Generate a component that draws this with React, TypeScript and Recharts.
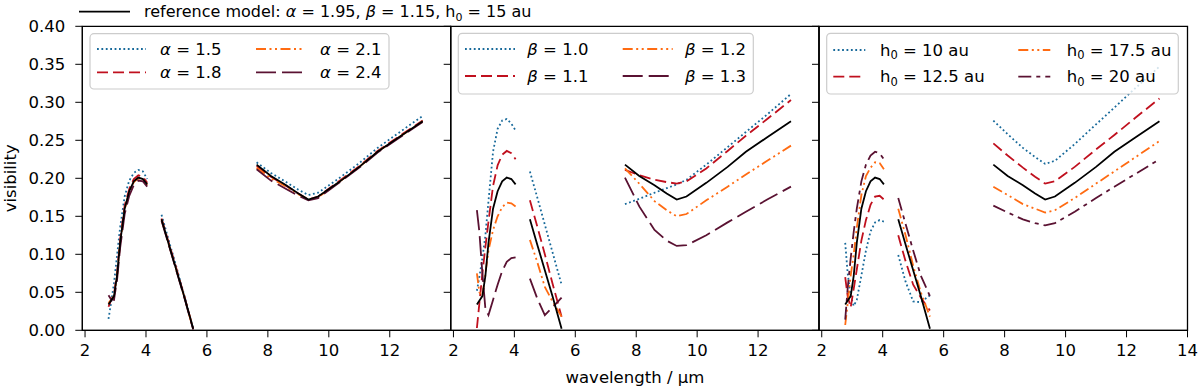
import { LineChart, Line, XAxis, YAxis, ReferenceArea } from "recharts";

// wavelength grid (µm); the null rows at 4.3 and 6.5 break the line between bands
const wavelength = [
  2.77, 2.85, 2.95, 3.05, 3.15, 3.3, 3.45, 3.6, 3.75, 3.9, 4.04, 4.3, 4.51,
  4.75, 5.0, 5.25, 5.55, 6.5, 7.63, 8.1, 8.6, 9.0, 9.33, 9.65, 10.3, 11.0,
  11.6, 12.3, 13.08,
];

const referenceModel = [
  0.034, 0.039, 0.045, 0.072, 0.115, 0.16, 0.183, 0.196, 0.201, 0.199, 0.192,
  null, 0.146, 0.113, 0.079, 0.045, 0.002, null, 0.218, 0.203, 0.191, 0.18,
  0.172, 0.176, 0.194, 0.215, 0.235, 0.254, 0.275,
];

const alpha15 = [
  0.015, 0.035, 0.062, 0.098, 0.135, 0.176, 0.197, 0.207, 0.211, 0.209, 0.199,
  null, 0.152, 0.118, 0.083, 0.047, 0.002, null, 0.221, 0.207, 0.195, 0.185,
  0.178, 0.181, 0.199, 0.22, 0.24, 0.26, 0.282,
];
const alpha18 = [
  0.031, 0.039, 0.047, 0.075, 0.119, 0.164, 0.186, 0.199, 0.204, 0.202, 0.194,
  null, 0.147, 0.115, 0.081, 0.046, 0.002, null, 0.216, 0.202, 0.19, 0.18,
  0.172, 0.176, 0.195, 0.216, 0.236, 0.255, 0.276,
];
const alpha21 = [
  0.036, 0.04, 0.045, 0.071, 0.114, 0.159, 0.182, 0.195, 0.2, 0.198, 0.191,
  null, 0.145, 0.113, 0.079, 0.045, 0.001, null, 0.214, 0.2, 0.189, 0.179,
  0.172, 0.175, 0.194, 0.215, 0.235, 0.254, 0.275,
];
const alpha24 = [
  0.046, 0.041, 0.04, 0.066, 0.108, 0.153, 0.177, 0.191, 0.197, 0.196, 0.189,
  null, 0.144, 0.112, 0.078, 0.044, 0.001, null, 0.212, 0.197, 0.186, 0.177,
  0.171, 0.174, 0.193, 0.214, 0.234, 0.253, 0.274,
];

const beta10 = [
  0.052, 0.07, 0.095, 0.125, 0.17, 0.235, 0.265, 0.276, 0.278, 0.272, 0.263,
  null, 0.209, 0.175, 0.139, 0.103, 0.06, null, 0.166, 0.173, 0.181, 0.187,
  0.192, 0.198, 0.218, 0.241, 0.261, 0.284, 0.311,
];
const beta11 = [
  0.003, 0.035, 0.075, 0.11, 0.143, 0.19, 0.217, 0.231, 0.236, 0.233, 0.225,
  null, 0.171, 0.137, 0.1, 0.062, 0.018, null, 0.211, 0.204, 0.198, 0.195,
  0.193, 0.196, 0.213, 0.236, 0.256, 0.278, 0.303,
];
const beta12 = [
  0.075, 0.05, 0.045, 0.075, 0.105, 0.132, 0.15, 0.162, 0.168, 0.167, 0.163,
  null, 0.119, 0.09, 0.057, 0.038, 0.018, null, 0.213, 0.193, 0.17, 0.158,
  0.15, 0.153, 0.171, 0.189, 0.205, 0.223, 0.243,
];
const beta13 = [
  0.158, 0.13, 0.075, 0.028, 0.02, 0.04, 0.06, 0.078, 0.09, 0.095, 0.096,
  null, 0.068, 0.042, 0.02, 0.03, 0.043, null, 0.201, 0.163, 0.132, 0.118,
  0.111, 0.112, 0.125, 0.142, 0.156, 0.172, 0.189,
];

const h0_10 = [
  0.115, 0.075, 0.045, 0.032, 0.04, 0.072, 0.105, 0.13, 0.142, 0.145, 0.143,
  null, 0.099, 0.064, 0.038, 0.037, 0.046, null, 0.276, 0.258, 0.24, 0.228,
  0.219, 0.223, 0.245, 0.271, 0.293, 0.319, 0.347,
];
const h0_125 = [
  0.07, 0.045, 0.03, 0.055, 0.08, 0.118, 0.145, 0.165, 0.176, 0.177, 0.172,
  null, 0.125, 0.091, 0.06, 0.043, 0.026, null, 0.246, 0.23, 0.214, 0.202,
  0.193, 0.196, 0.215, 0.238, 0.257, 0.28, 0.305,
];
const h0_175 = [
  0.007, 0.035, 0.072, 0.1, 0.135, 0.178, 0.203, 0.214, 0.221, 0.22, 0.212,
  null, 0.16, 0.125, 0.085, 0.05, 0.018, null, 0.189, 0.178, 0.166, 0.16,
  0.155, 0.158, 0.174, 0.193, 0.209, 0.228, 0.249,
];
const h0_20 = [
  0.014, 0.055, 0.095, 0.13, 0.16, 0.196, 0.218, 0.23, 0.235, 0.233, 0.225,
  null, 0.174, 0.14, 0.105, 0.072, 0.045, null, 0.164, 0.155, 0.146, 0.141,
  0.138, 0.141, 0.156, 0.174, 0.189, 0.206, 0.225,
];

const alphaLabels = ["1.5", "1.8", "2.1", "2.4"];
const betaLabels = ["1.0", "1.1", "1.2", "1.3"];
const h0Labels = ["10", "12.5", "17.5", "20"];

const xTicks = [2, 4, 6, 8, 10, 12];
const xTicksLast = [2, 4, 6, 8, 10, 12, 14];
const yTicks = [0, 0.05, 0.1, 0.15, 0.2, 0.25, 0.3, 0.35, 0.4];

const colors = ["#17699a", "#c0101e", "#ff6b12", "#5a1232"];
const dashes = ["1.8 2.6", "11 5", "10 3.5 2 3.5 2 3.5", "20 6"];
const dashesH0 = ["1.8 2.6", "11 5", "10 3.5 2 3.5 2 3.5", "13 5 4 5"];

const FONT = "'DejaVu Sans', sans-serif";
const FS = 16.5;
const X_DOMAIN: [number, number] = [1.91, 14.0];
const PLOT_TOP = 26.3;
const PLOT_BOTTOM = 330.3;

function buildRows(series: (number | null)[][]) {
  return wavelength.map((x, i) => {
    const row: Record<string, number | null> = { x, ref: referenceModel[i] };
    series.forEach((s, k) => {
      row[`s${k}`] = s[i];
    });
    return row;
  });
}

function Panel({
  left,
  right,
  series,
  dash,
  ticks,
  showY,
}: {
  left: number;
  right: number;
  series: (number | null)[][];
  dash: string[];
  ticks: number[];
  showY: boolean;
}) {
  const rows = buildRows(series);
  return (
    <div style={{ position: "absolute", left: 0, top: 0 }}>
      <LineChart
        width={1200}
        height={392}
        data={rows}
        margin={{
          top: PLOT_TOP,
          right: 1200 - right,
          bottom: 392 - PLOT_BOTTOM - 40,
          left: left - 70,
        }}
        style={{ fontFamily: FONT }}
      >
        <XAxis
          dataKey="x"
          type="number"
          domain={X_DOMAIN}
          ticks={ticks}
          interval={0}
          allowDataOverflow
          height={40}
          tickSize={7}
          tickMargin={7}
          stroke="#000"
          tick={{ fill: "#000", fontSize: FS, fontFamily: FONT }}
          tickFormatter={(v) => String(v)}
        />
        <YAxis
          type="number"
          domain={[0, 0.4]}
          ticks={yTicks}
          interval={0}
          allowDataOverflow
          width={70}
          tickSize={7}
          tickMargin={10}
          stroke="#000"
          tick={{ fill: "#000", fontSize: FS, fontFamily: FONT }}
          tickFormatter={(v) => (showY ? Number(v).toFixed(2) : "")}
        />
        <ReferenceArea
          x1={X_DOMAIN[0]}
          x2={X_DOMAIN[1]}
          y1={0}
          y2={0.4}
          fill="none"
          stroke="#000"
          strokeWidth={1.3}
          ifOverflow="visible"
        />
        {series.map((_, k) => (
          <Line
            key={k}
            dataKey={`s${k}`}
            type="linear"
            stroke={colors[k]}
            strokeWidth={1.8}
            strokeDasharray={dash[k]}
            dot={false}
            activeDot={false}
            connectNulls={false}
            isAnimationActive={false}
          />
        ))}
        <Line
          dataKey="ref"
          type="linear"
          stroke="#000"
          strokeWidth={1.8}
          dot={false}
          activeDot={false}
          connectNulls={false}
          isAnimationActive={false}
        />
      </LineChart>
    </div>
  );
}

function Label({ kind, text }: { kind: string; text: string }) {
  if (kind === "h0")
    return (
      <>
        h<tspan fontSize={11.5} dy={3.5}>0</tspan>
        <tspan dy={-3.5}>{` = ${text} au`}</tspan>
      </>
    );
  return (
    <>
      <tspan fontStyle="italic">{kind === "alpha" ? "α" : "β"}</tspan>
      {` = ${text}`}
    </>
  );
}

interface LegendSpec {
  kind: string;
  labels: string[];
  dash: string[];
  box: [number, number, number, number];
  handleX: [number, number];
  handleLen: number;
  textX: [number, number];
  rowY: [number, number];
  base: [number, number];
}

const legends: LegendSpec[] = [
  {
    kind: "alpha",
    labels: alphaLabels,
    dash: dashes,
    box: [90, 33.7, 299, 55.3],
    handleX: [97, 256],
    handleLen: 49,
    textX: [160, 320],
    rowY: [49, 72.3],
    base: [54.5, 77.5],
  },
  {
    kind: "beta",
    labels: betaLabels,
    dash: dashes,
    box: [458.3, 33.3, 295, 60.7],
    handleX: [465, 622.7],
    handleLen: 50,
    textX: [527.3, 685],
    rowY: [49, 76],
    base: [55, 82],
  },
  {
    kind: "h0",
    labels: h0Labels,
    dash: dashesH0,
    box: [826.7, 33.3, 351.6, 60.7],
    handleX: [833.3, 1018.3],
    handleLen: 32,
    textX: [880, 1066.7],
    rowY: [50, 76.7],
    base: [55.5, 82],
  },
];

function Overlay() {
  return (
    <svg
      width={1200}
      height={392}
      style={{ position: "absolute", left: 0, top: 0, pointerEvents: "none" }}
      fontFamily={FONT}
      fontSize={FS}
    >
      {/* figure legend for the reference model */}
      <line x1={79} x2={130} y1={11.7} y2={11.7} stroke="#000" strokeWidth={1.8} />
      <text x={144} y={17} fontSize={16}>
        {"reference model: "}
        <tspan fontStyle="italic">α</tspan>
        {" = 1.95, "}
        <tspan fontStyle="italic">β</tspan>
        {" = 1.15, h"}
        <tspan fontSize={11} dy={3.5}>0</tspan>
        <tspan dy={-3.5}>{" = 15 au"}</tspan>
      </text>

      {legends.map((lg, p) => (
        <g key={p}>
          <rect
            x={lg.box[0]}
            y={lg.box[1]}
            width={lg.box[2]}
            height={lg.box[3]}
            rx={4}
            fill="#fff"
            fillOpacity={0.8}
            stroke="#cccccc"
            strokeWidth={1.2}
          />
          {lg.labels.map((lab, k) => {
            const col = Math.floor(k / 2);
            const row = k % 2;
            return (
              <g key={k}>
                <line
                  x1={lg.handleX[col]}
                  x2={lg.handleX[col] + lg.handleLen}
                  y1={lg.rowY[row]}
                  y2={lg.rowY[row]}
                  stroke={colors[k]}
                  strokeWidth={1.8}
                  strokeDasharray={lg.dash[k]}
                />
                <text x={lg.textX[col]} y={lg.base[row]}>
                  <Label kind={lg.kind} text={lab} />
                </text>
              </g>
            );
          })}
        </g>
      ))}

      <text x={634.9} y={383} textAnchor="middle">
        wavelength / µm
      </text>
      <text
        x={16.5}
        y={178.3}
        textAnchor="middle"
        transform="rotate(-90 16.5 178.3)"
      >
        visibility
      </text>
    </svg>
  );
}

export default function App() {
  return (
    <div
      style={{
        position: "absolute",
        left: 0,
        top: 0,
        width: 1200,
        height: 392,
        background: "#fff",
        overflow: "hidden",
      }}
    >
      <Panel
        left={82.3}
        right={450.7}
        series={[alpha15, alpha18, alpha21, alpha24]}
        dash={dashes}
        ticks={xTicks}
        showY
      />
      <Panel
        left={450.7}
        right={819}
        series={[beta10, beta11, beta12, beta13]}
        dash={dashes}
        ticks={xTicks}
        showY={false}
      />
      <Panel
        left={819}
        right={1187.5}
        series={[h0_10, h0_125, h0_175, h0_20]}
        dash={dashesH0}
        ticks={xTicksLast}
        showY={false}
      />
      <Overlay />
    </div>
  );
}
